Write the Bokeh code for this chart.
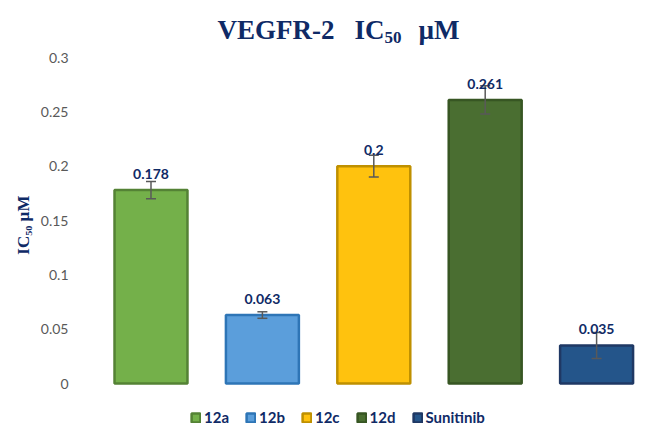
from bokeh.plotting import figure
from bokeh.models import (ColumnDataSource, Range1d, Whisker, TeeHead, LabelSet, Label,
                          Legend, LegendItem, FixedTicker)
from bokeh.core.properties import value
from bokeh.embed import file_html
from bokeh.resources import INLINE

categories = ["12a", "12b", "12c", "12d", "Sunitinib"]
ic50 = [0.178, 0.063, 0.2, 0.261, 0.035]
errors = [0.008, 0.003, 0.010, 0.013, 0.012]
label_texts = ["0.178", "0.063", "0.2", "0.261", "0.035"]
fill_colors = ["#74b04a", "#5b9edb", "#ffc20e", "#4a6e31", "#24558a"]
line_colors = ["#548235", "#2e75b6", "#bf9000", "#375623", "#1f3864"]
y_ticks = [0, 0.05, 0.1, 0.15, 0.2, 0.25, 0.3]
y_tick_labels = ["0", "0.05", "0.1", "0.15", "0.2", "0.25", "0.3"]

NAVY = "#0f2a66"

W, H = 649, 428
FL, FR = 88, 644            # frame left/right in pixels
PX0, PX1 = -0.561, 4.43     # x data at frame left/right
Y_ZERO_PX, Y_TOP_PX, Y_TOP = 383, 57, 0.3   # pixel rows of y=0 and y=0.3
SCALE = (Y_ZERO_PX - Y_TOP_PX) / Y_TOP
Y0 = -(H - Y_ZERO_PX) / SCALE
Y1 = Y_ZERO_PX / SCALE

def xd(px):
    return PX0 + (px - FL) * (PX1 - PX0) / (FR - FL)

def yd(py):
    return (Y_ZERO_PX - py) / SCALE

xs = list(range(len(categories)))
src = ColumnDataSource(dict(
    x=xs, top=ic50, upper=[v + e for v, e in zip(ic50, errors)],
    lower=[v - e for v, e in zip(ic50, errors)], lbl=label_texts,
    fill=fill_colors, line=line_colors, name=categories))

p = figure(width=W, height=H, output_backend="svg", toolbar_location=None,
           x_range=Range1d(PX0, PX1), y_range=Range1d(Y0, Y1),
           min_border_left=FL, min_border_right=W - FR, min_border_top=0,
           min_border_bottom=0, x_axis_location=None)
p.outline_line_color = None
p.grid.visible = False
p.background_fill_color = "white"
p.border_fill_color = "white"

ax = p.yaxis[0]
ax.ticker = FixedTicker(ticks=y_ticks)
ax.major_label_overrides = {t: s for t, s in zip(y_ticks, y_tick_labels)}
ax.axis_line_color = None
ax.major_tick_line_color = None
ax.minor_tick_line_color = None
ax.major_label_text_font = "Lato"
ax.major_label_text_font_size = "14px"
ax.major_label_text_color = "#595959"
ax.major_label_standoff = 14
ax.axis_label = "IC\u2085\u2080  \u00b5M\u00a0\u00a0\u00a0\u00a0"
ax.axis_label_text_font = "Liberation Serif"
ax.axis_label_text_font_style = "bold"
ax.axis_label_text_font_size = "17px"
ax.axis_label_text_color = NAVY
ax.axis_label_standoff = 5

bars = p.vbar(x="x", top="top", bottom=0, width=0.655, source=src,
              fill_color="fill", line_color="line", line_width=2.5)

wh = Whisker(base="x", upper="upper", lower="lower", source=src, level="overlay",
             line_color="#595959", line_width=1.5,
             upper_head=TeeHead(size=10, line_color="#595959", line_width=1.5),
             lower_head=TeeHead(size=10, line_color="#595959", line_width=1.5))
p.add_layout(wh)

labels = LabelSet(x="x", y="top", text="lbl", source=src, y_offset=11,
                  text_align="center", text_baseline="alphabetic",
                  text_font=value("Lato"), text_font_style="bold", text_font_size="14px",
                  text_color=NAVY, level="overlay")
p.add_layout(labels)

def add_label(text, px, py, size):
    p.add_layout(Label(x=xd(px), y=yd(py), text=text, text_font="Liberation Serif",
                       text_font_style="bold", text_font_size=size, text_color=NAVY,
                       text_align="left", text_baseline="alphabetic", level="overlay"))

# Title: VEGFR-2  IC50  µM
add_label("VEGFR-2", 217, 29, "27px")
add_label("IC", 354, 29, "27px")
add_label("50", 384, 37, "17px")
add_label("µM", 418, 29, "27px")

items = [LegendItem(label=c, renderers=[bars], index=i) for i, c in enumerate(categories)]
legend = Legend(items=items, orientation="horizontal", location=(190 - FL, 2),
                glyph_width=11, glyph_height=11, label_standoff=3, spacing=16,
                label_text_font="Lato", label_text_font_style="bold",
                label_text_font_size="15px", label_text_color=NAVY,
                label_height=16, label_width=10, padding=0, margin=0,
                border_line_color=None, background_fill_alpha=0)
p.add_layout(legend)

open("out.html", "w").write(file_html(p, INLINE))
